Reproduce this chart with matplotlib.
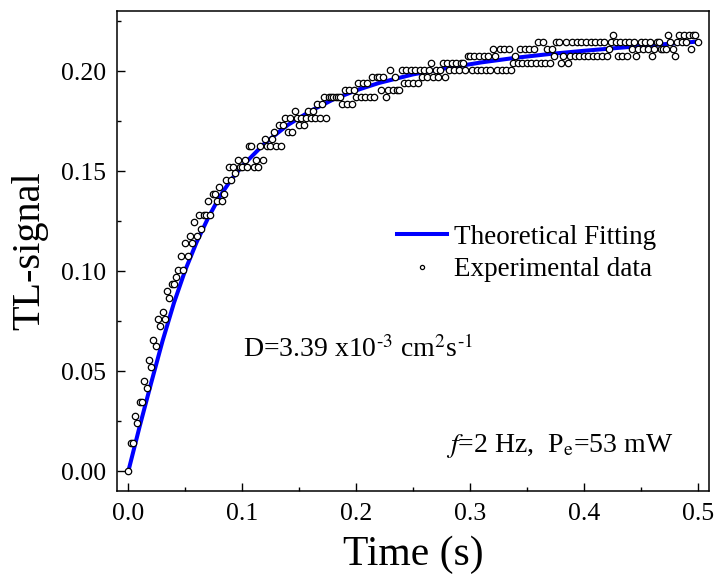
import numpy as np
import matplotlib
matplotlib.use("Agg")
import matplotlib.pyplot as plt

plt.rcParams['font.family'] = ['Liberation Serif', 'DejaVu Serif']
plt.rcParams['mathtext.fontset'] = 'stix'

dt = 0.002          # sampling step (s)
level_step = 0.00346  # signal quantum
tl_levels = [
    0, 4, 4, 8, 7, 10, 10, 13, 12, 16, 15, 19, 18, 22, 21, 23, 22, 26, 25,
    27, 27, 28, 29, 31, 29, 33, 31, 34, 33, 36, 34, 37, 35, 37, 37, 39, 37, 40, 40,
    39, 41, 39, 40, 42, 44, 42, 44, 43, 45,
    44, 44, 45, 44, 47, 47, 44, 45, 44, 47, 45, 48, 47, 47, 48, 49, 47, 50, 47, 50,
    51, 49, 51, 49, 52, 51, 50, 51, 50, 51, 52, 51, 52, 51, 53, 51, 53, 54, 51, 54,
    54, 54, 54, 54, 54, 53, 55, 53, 55, 53, 55, 54, 56, 54, 56, 54, 56, 54, 57, 54,
    57, 57, 55, 57, 54, 55, 58, 55, 57, 55, 55, 58, 56, 58, 56, 58, 56, 58, 56, 58,
    57, 58, 57, 58, 59, 57, 58, 57, 58, 59,
    57, 59, 58, 59, 58, 59, 58, 59, 59, 58, 60, 60, 58, 60, 58, 60, 58, 60, 58, 60,
    58, 61, 60, 58, 61, 58, 61, 58, 61, 58, 59, 60, 59, 61, 59, 61, 59, 61, 59, 61,
    59, 62, 59, 62, 59, 61, 59, 61, 60, 62, 62, 59, 60, 62,
    59, 60, 62, 60, 62, 60, 62, 60, 62, 60, 62, 60, 62, 60, 62, 60, 62, 60, 61, 62,
    63, 62, 60, 62, 60, 62, 60, 62, 61, 62, 60, 61, 62, 61, 62, 61, 62, 60, 61, 62,
    62, 61, 61, 61, 63, 62, 61, 60, 62, 63, 62, 63, 62, 63, 61, 63, 63, 62,
]

# theoretical fitting curve
fit_t = [0, 0.01, 0.02, 0.03, 0.04, 0.05, 0.06, 0.07, 0.08, 0.09, 0.10, 0.12, 0.14,
         0.16, 0.18, 0.20, 0.22, 0.25, 0.28, 0.31, 0.34, 0.37, 0.40, 0.45, 0.50]
fit_tl = [0, 0.0225, 0.044, 0.065, 0.084, 0.1005, 0.1145, 0.1265, 0.137, 0.1455,
          0.1525, 0.1640, 0.1730, 0.1800, 0.1858, 0.1903, 0.1940, 0.1983, 0.2015,
          0.2043, 0.2066, 0.2085, 0.2101, 0.2125, 0.2147]

exp_t = np.arange(len(tl_levels)) * dt
exp_tl = np.array(tl_levels) * level_step

fig = plt.figure(figsize=(7.15, 5.76), dpi=100)
ax = fig.add_axes([117 / 715, 85 / 576, 592 / 715, 480 / 576])

ax.plot(fit_t, fit_tl, color='#0000ff', lw=2.9, label='Theoretical Fitting', zorder=2)
ax.plot(exp_t, exp_tl, 'o', ms=4.6, mfc='white', mec='black', mew=0.9,
        label='Experimental data', zorder=3)

ax.set_xlim(-0.01, 0.51)
ax.set_ylim(-0.01, 0.23)
ax.set_xticks([0.0, 0.1, 0.2, 0.3, 0.4, 0.5])
ax.set_xticks(np.arange(0.05, 0.5, 0.1), minor=True)
ax.set_yticks([0.00, 0.05, 0.10, 0.15, 0.20])
ax.set_yticks([0.025, 0.075, 0.125, 0.175, 0.225], minor=True)
ax.set_xticklabels(['0.0', '0.1', '0.2', '0.3', '0.4', '0.5'])
ax.set_yticklabels(['0.00', '0.05', '0.10', '0.15', '0.20'])

ax.tick_params(which='both', direction='in', top=False, right=False,
               labelsize=18.5, width=1.0)
ax.tick_params(axis='x', which='major', length=5.5, pad=9)
ax.tick_params(axis='y', which='major', length=5.5, pad=8)
ax.tick_params(which='minor', length=2.8)
for s in ax.spines.values():
    s.set_linewidth(1.1)

ax.set_xlabel('Time (s)', fontsize=30, labelpad=7)
ax.set_ylabel('TL-signal', fontsize=29, labelpad=9)

leg = ax.legend(loc='upper left', bbox_to_anchor=(0.455, 0.577), frameon=False,
                fontsize=19.5, handlelength=1.85, handletextpad=0.25,
                labelspacing=0.27, markerscale=0.65, borderaxespad=0)

ax.text(0.1006, 0.057, r'D=3.39 x10$^{\text{-3}}$ cm$^{2}$s$^{\text{-1}}$', fontsize=20,
        ha='left', va='baseline')
ax.text(0.279, 0.0095, r'$f$=2 Hz,  P$_{\mathrm{e}}$=53 mW', fontsize=20,
        ha='left', va='baseline')

fig.savefig('out.png', dpi=100)
